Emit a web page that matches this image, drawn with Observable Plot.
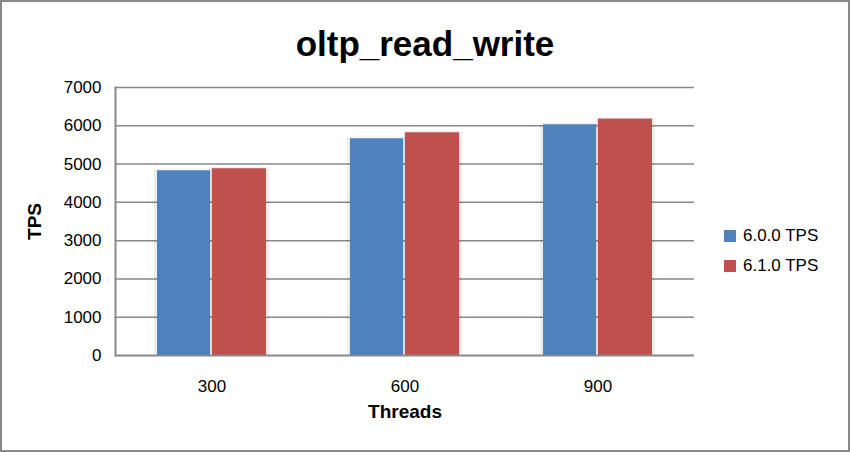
<!DOCTYPE html>
<html>
<head>
<meta charset="utf-8">
<script src="https://cdn.jsdelivr.net/npm/d3@7"></script>
<script src="https://cdn.jsdelivr.net/npm/@observablehq/plot@0.6"></script>
<style>
  body { margin: 0; background: #fff; font-family: "Liberation Sans", Arial, Helvetica, sans-serif; }
  #wrap { position: relative; width: 850px; height: 452px; overflow: hidden; background: #fff; }
  #chart { position: absolute; left: 0; top: 0; }
  #title { position: absolute; left: 0; top: 24px; width: 850px; height: 40px; line-height: 40px; text-align: center; font-size: 35px; font-weight: bold; color: #000; }
  #legend { position: absolute; left: 724px; top: 221px; font-size: 17px; color: #000; }
  .item { display: flex; align-items: center; height: 30px; }
  .sw { width: 12px; height: 12px; margin-right: 7px; }
  #border { position: absolute; left: 0; top: 0; width: 850px; height: 452px; box-sizing: border-box; border: 2px solid #888; pointer-events: none; }
</style>
</head>
<body>
<div id="wrap">
  <div id="chart"></div>
  <div id="title">oltp_read_write</div>
  <div id="legend"></div>
  <div id="border"></div>
</div>
<script>
const threads = ["300", "600", "900"];
const seriesNames = ["6.0.0 TPS", "6.1.0 TPS"];
const tps600 = [4825, 5661, 6027];
const tps610 = [4878, 5818, 6175];
const yTicks = [0, 1000, 2000, 3000, 4000, 5000, 6000, 7000];
const colors = ["#4F81BD", "#C0504D"];

const d600 = threads.map((t, i) => ({threads: t, series: seriesNames[0], tps: tps600[i]}));
const d610 = threads.map((t, i) => ({threads: t, series: seriesNames[1], tps: tps610[i]}));

const plot = Plot.plot({
  width: 850,
  height: 452,
  marginTop: 87,
  marginRight: 156,
  marginBottom: 97,
  marginLeft: 115,
  style: { fontFamily: '"Liberation Sans", Arial, Helvetica, sans-serif', fontSize: "17px", color: "#000", background: "transparent" },
  x: { domain: threads, paddingInner: 0.435, paddingOuter: 0.2175, label: "Threads", labelArrow: false, labelAnchor: "center", labelOffset: 62, tickSize: 0, tickPadding: 24 },
  y: { domain: [0, 7000], ticks: yTicks, label: "TPS", labelArrow: false, labelAnchor: "center", labelOffset: 88, tickSize: 0, tickPadding: 14, tickFormat: d => String(d) },
  marks: [
    Plot.gridY(yTicks.slice(1), { stroke: "#888", strokeOpacity: 1, strokeWidth: 1.5 }),
    Plot.barY(d600, { x: "threads", y: "tps", fill: "#000", fillOpacity: 0.07, insetRight: 54, insetLeft: -3, dy: -1 }),
    Plot.barY(d610, { x: "threads", y: "tps", fill: "#000", fillOpacity: 0.07, insetLeft: 53, insetRight: -3, dy: -1 }),
    Plot.barY(d600, { x: "threads", y: "tps", fill: colors[0], insetRight: 56 }),
    Plot.barY(d610, { x: "threads", y: "tps", fill: colors[1], insetLeft: 55 }),
    Plot.frame({ anchor: "left", stroke: "#888", strokeWidth: 2 }),
    Plot.ruleY([0], { stroke: "#888", strokeWidth: 2 })
  ]
});
d3.select(plot).selectAll('g[aria-label="x-axis label"], g[aria-label="y-axis label"]')
  .attr("font-weight", "bold").attr("font-size", "19px")
  .selectAll("text").each(function () {
    const t = d3.select(this);
    t.text(t.text().replace(/[\u2190-\u2193]/g, "").trim());
  });
document.getElementById("chart").appendChild(plot);

const legend = d3.select("#legend");
seriesNames.forEach((name, i) => {
  const row = legend.append("div").attr("class", "item");
  row.append("div").attr("class", "sw").style("background", colors[i]);
  row.append("span").text(name);
});
</script>
</body>
</html>
